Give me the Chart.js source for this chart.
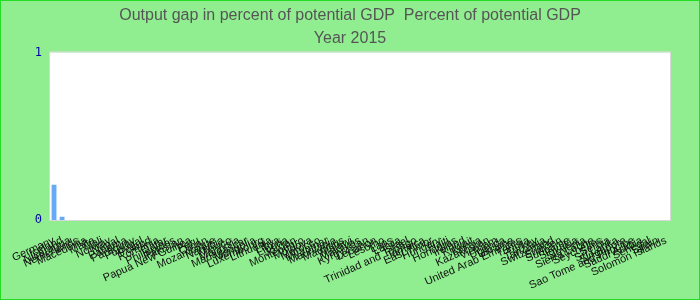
<!DOCTYPE html>
<html>
<head>
<meta charset="utf-8">
<script src="https://cdn.jsdelivr.net/npm/chart.js@4"></script>
<style>
  body { margin: 0; }
  #wrap { width: 700px; height: 300px; box-sizing: border-box; border: 1px solid #22dd22; background: #90ee90; }
</style>
</head>
<body>
<div id="wrap"><canvas id="gapChart" width="698" height="298"></canvas></div>
<script>
// countries in the order they appear on the x axis
var countries = ['Germany', 'Iceland', 'Nicaragua', 'Netherlands', 'Macedonia', 'Malta', 'Mali', 'Norway',
  'Nepal', 'Panama', 'Paraguay', 'Portugal', 'Poland', 'Romania', 'Qatar', 'Philippines', 'Pakistan',
  'Papua New Guinea', 'Peru', 'Oman', 'Mozambique', 'Namibia', 'Mexico', 'Malaysia', 'Madagascar',
  'Mongolia', 'Luxembourg', 'Lithuania', 'Libya', 'Liberia', 'Jordan', 'Montenegro', 'Moldova',
  'Morocco', 'Myanmar', 'Mauritania', 'Mauritius', 'Malawi', 'Maldives', 'Kyrgyzstan',
  'Lebanon', 'Lesotho', 'Laos', 'Latvia', 'Israel', 'Trinidad and Tobago', 'Jamaica', 'East Timor',
  'Hungary', 'Haiti', 'Honduras', 'Ireland', 'Kuwait', 'Kenya', 'Kazakhstan', 'Vietnam', 'Uganda',
  'Ukraine', 'United Arab Emirates', 'Tunisia', 'Turkey', 'Tanzania', 'Switzerland', 'Sweden',
  'Suriname', 'Slovakia', 'Slovenia', 'Sierra Leone', 'Seychelles', 'Serbia', 'Sri Lanka', 'Singapore',
  'Sao Tome and Principe', 'Saudi Arabia', 'Senegal', 'Spain', 'Solomon Islands'];
// output gap values, only the first two are above zero in the picture
var gapValues = [0.21, 0.02];
while (gapValues.length < countries.length) gapValues.push(0);
var yTicks = [0, 1];

// white plot area with a thin grey frame
var plotBg = {
  id: 'plotBg',
  beforeDraw: function(chart) {
    var a = chart.chartArea, c = chart.ctx;
    c.save();
    c.fillStyle = '#ffffff';
    c.fillRect(a.left, a.top, a.right - a.left, a.bottom - a.top);
    c.strokeStyle = '#d8d8d8';
    c.lineWidth = 1;
    c.strokeRect(a.left - 0.5, a.top - 0.5, a.right - a.left + 1, a.bottom - a.top + 1);
    c.restore();
  }
};

var ctx = document.getElementById('gapChart').getContext('2d');
var gapChart = new Chart(ctx, {
  type: 'bar',
  plugins: [plotBg],
  data: {
    labels: countries,
    datasets: [{
      label: 'Output gap',
      data: gapValues,
      backgroundColor: '#66aaf5',
      barPercentage: 0.6,
      categoryPercentage: 1
    }]
  },
  options: {
    responsive: false,
    animation: false,
    layout: { padding: 0 },
    plugins: {
      legend: { display: false },
      tooltip: { enabled: false },
      title: {
        display: true,
        text: ['Output gap in percent of potential GDP  Percent of potential GDP', 'Year 2015'],
        color: '#555555',
        font: { family: 'Liberation Sans', size: 16, weight: 'normal', lineHeight: 1.45 },
        padding: { top: 3, bottom: 2 }
      }
    },
    scales: {
      x: {
        grid: { display: false },
        border: { display: false },
        ticks: {
          autoSkip: false,
          minRotation: 24,
          maxRotation: 24,
          color: '#111111',
          font: { family: 'Liberation Sans', size: 11 },
          padding: 6
        },
        afterFit: function(s) { s.height = 79; }
      },
      y: {
        min: 0,
        max: 1,
        grid: { display: false },
        border: { display: false },
        afterBuildTicks: function(s) { s.ticks = yTicks.map(function(v) { return { value: v }; }); },
        ticks: {
          color: '#0000aa',
          font: { family: 'DejaVu Sans Mono', size: 12 },
          padding: 0
        },
        afterFit: function(s) { s.width = 49; }
      },
      // empty strip on the right so the plot stops short of the edge
      yRight: {
        position: 'right',
        grid: { display: false },
        border: { display: false },
        ticks: { display: false },
        afterFit: function(s) { s.width = 29; }
      }
    }
  }
});
</script>
</body>
</html>
